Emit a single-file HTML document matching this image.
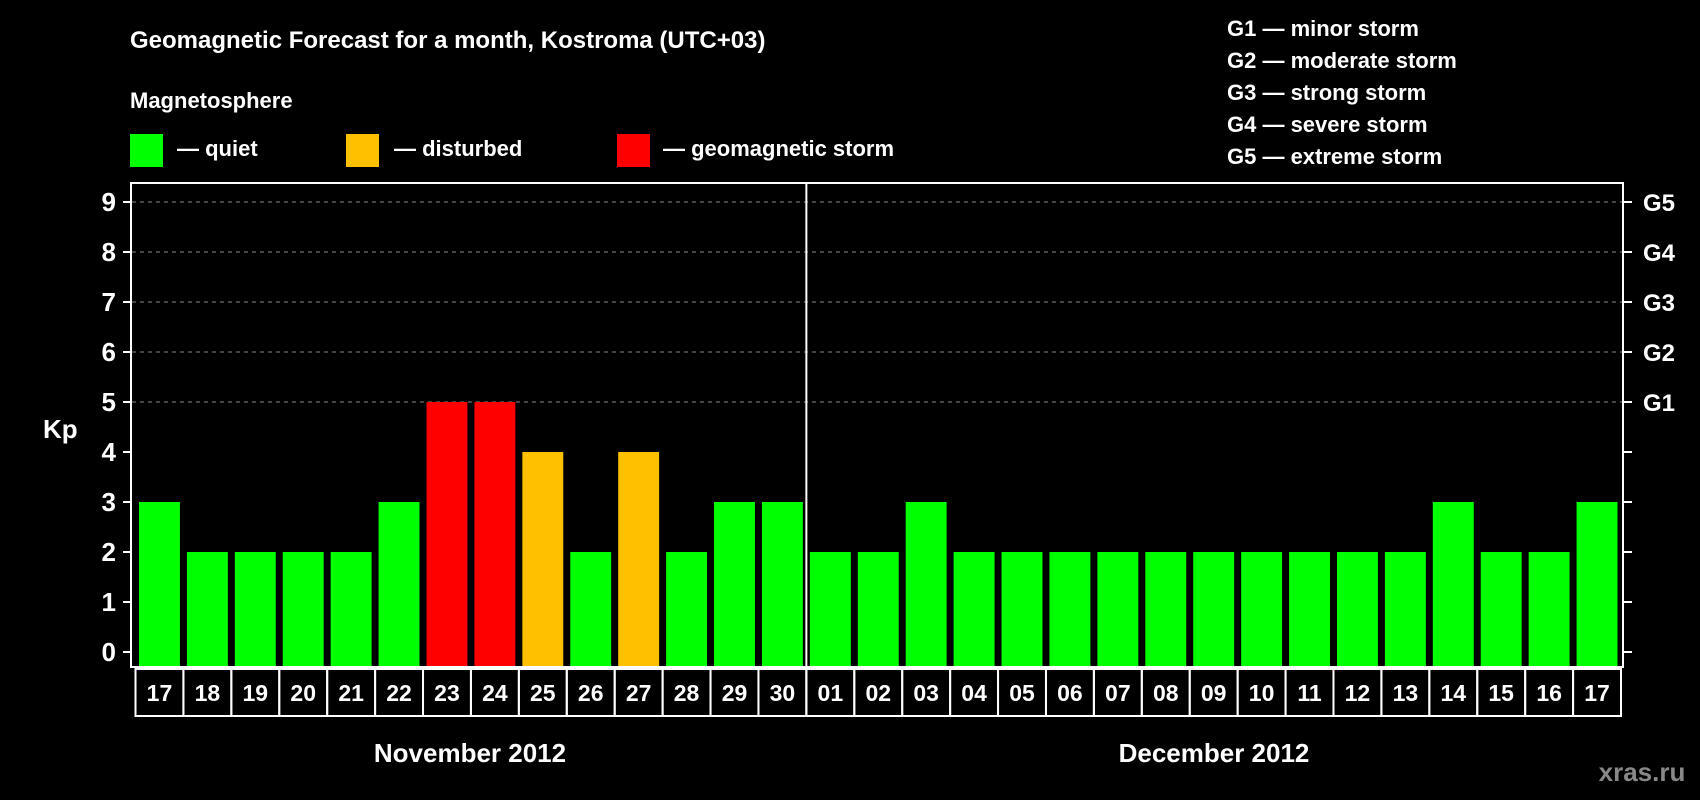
<!DOCTYPE html>
<html><head><meta charset="utf-8"><style>
html,body{margin:0;padding:0;background:#000;}
svg{display:block;font-family:"Liberation Sans",Arial,sans-serif;font-weight:bold;}
</style></head><body>
<svg id="chart" width="1700" height="800" viewBox="0 0 1700 800">
<rect x="0" y="0" width="1700" height="800" fill="#000"/>
<text x="130" y="48" fill="#fff" font-size="24">Geomagnetic Forecast for a month, Kostroma (UTC+03)</text>
<text x="130" y="108" fill="#fff" font-size="22">Magnetosphere</text>
<g><rect x="130" y="134" width="33" height="33" fill="#00ff00"/><text x="177" y="156" fill="#fff" font-size="22">— quiet</text></g>
<g><rect x="346" y="134" width="33" height="33" fill="#ffc000"/><text x="394" y="156" fill="#fff" font-size="22">— disturbed</text></g>
<g><rect x="617" y="134" width="33" height="33" fill="#ff0000"/><text x="663" y="156" fill="#fff" font-size="22">— geomagnetic storm</text></g>
<g fill="#fff" font-size="22">
<text x="1227" y="36">G1 — minor storm</text>
<text x="1227" y="68">G2 — moderate storm</text>
<text x="1227" y="100">G3 — strong storm</text>
<text x="1227" y="132">G4 — severe storm</text>
<text x="1227" y="164">G5 — extreme storm</text>
</g>
<text x="43" y="438" fill="#fff" font-size="26">Kp</text>
<g id="grid"></g>
<g id="bars"></g>
<rect x="131" y="183" width="1492" height="484" fill="none" stroke="#fff" stroke-width="2"/>
<g id="axes"></g>
<text x="470" y="762" fill="#fff" font-size="26" text-anchor="middle">November 2012</text>
<text x="1214" y="762" fill="#fff" font-size="26" text-anchor="middle">December 2012</text>
<text x="1642" y="781" fill="#888" font-size="26" text-anchor="middle">xras.ru</text>
</svg>
<script>
const days = ["17","18","19","20","21","22","23","24","25","26","27","28","29","30","01","02","03","04","05","06","07","08","09","10","11","12","13","14","15","16","17"];
const kp = [3,2,2,2,2,3,5,5,4,2,4,2,3,3,2,2,3,2,2,2,2,2,2,2,2,2,2,3,2,2,3];
const yTicks = [0,1,2,3,4,5,6,7,8,9];
const gLabels = ["G1","G2","G3","G4","G5"];
const gLevels = [5,6,7,8,9];
const NS="http://www.w3.org/2000/svg";
const y0=652, unit=50, plotBottom=667, x0=135.5, cellW=(1621-135.5)/days.length;
const yS=v=>y0-v*unit;
const xS=i=>x0+i*cellW;
function mk(tag,attrs,parent){const e=document.createElementNS(NS,tag);for(const k in attrs)e.setAttribute(k,attrs[k]);parent.appendChild(e);return e;}
const grid=document.getElementById('grid'),bars=document.getElementById('bars'),axes=document.getElementById('axes');
gLevels.forEach((v,i)=>{
  const l=mk('line',{x1:132,x2:1622,y1:yS(v),y2:yS(v),stroke:'#888','stroke-dasharray':'4,4','stroke-width':1},grid);
  
  
  const t=mk('text',{x:1643,y:yS(v)+9,fill:'#fff','font-size':24},axes);
  t.textContent=gLabels[i];
  
  
});
yTicks.forEach(v=>{
  const t=mk('text',{x:116,y:yS(v)+9,fill:'#fff','font-size':26,'text-anchor':'end'},axes);
  t.textContent=v;
  
  
  mk('line',{x1:123,x2:131,y1:yS(v),y2:yS(v),stroke:'#fff','stroke-width':2},axes);
  mk('line',{x1:1623,x2:1632,y1:yS(v),y2:yS(v),stroke:'#fff','stroke-width':2},axes);
});
kp.forEach((v,i)=>{
  const col=v>=5?'#ff0000':(v>=4?'#ffc000':'#00ff00');
  const r=mk('rect',{x:xS(i)+3.5,y:yS(v),width:cellW-7,height:plotBottom-yS(v),fill:col},bars);
  
  
  const b=mk('rect',{x:xS(i),y:669,width:cellW,height:47,fill:'none',stroke:'#fff','stroke-width':2},axes);
  
  
  const t=mk('text',{x:xS(i)+cellW/2,y:701,fill:'#fff','font-size':23,'text-anchor':'middle'},axes);
  t.textContent=days[i];
  
  
});
const sep=mk('line',{x1:xS(14),x2:xS(14),y1:183,y2:716,stroke:'#fff','stroke-width':2},axes);


</script>
</body></html>
